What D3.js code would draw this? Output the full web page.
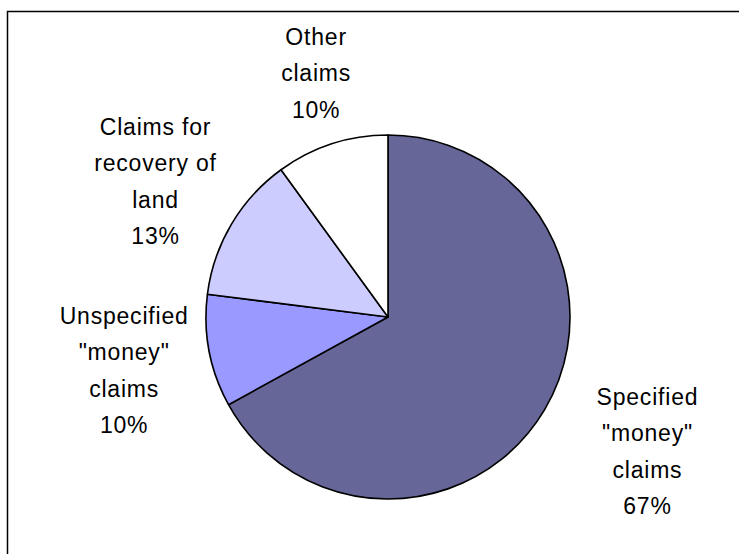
<!DOCTYPE html>
<html>
<head>
	<script src="https://cdn.jsdelivr.net/npm/d3@7/dist/d3.min.js"></script>
	<style>
		html, body {
			padding: 0;
			margin: 0;
			background: #ffffff;
		}
	</style>
</head>
<body>
	<script>
		// chart data
		var categories = ['Specified "money" claims', 'Unspecified "money" claims', 'Claims for recovery of land', 'Other claims'];
		var values = [67, 10, 13, 10];
		var colors = ['#666699', '#9999FF', '#CCCCFF', '#FFFFFF'];
		var labelLines = [
			['Specified', '"money"', 'claims', '67%'],
			['Unspecified', '"money"', 'claims', '10%'],
			['Claims for', 'recovery of', 'land', '13%'],
			['Other', 'claims', '10%']
		];

		var width = 739, height = 554;
		var cx = 388, cy = 317, radius = 182;

		var svg = d3.select('body').append('svg')
			.attr('width', width)
			.attr('height', height);

		// frame (runs off the right and bottom edges)
		svg.append('rect')
			.attr('x', 7.5)
			.attr('y', 11.5)
			.attr('width', 800)
			.attr('height', 800)
			.attr('fill', 'none')
			.attr('stroke', '#000')
			.attr('stroke-width', 1.5);

		var data = values.map(function (v, i) {
			return { name: categories[i], value: v, color: colors[i], lines: labelLines[i] };
		});

		var pie = d3.pie().sort(null).value(function (d) { return d.value; });
		var arc = d3.arc().innerRadius(0).outerRadius(radius);
		var arcs = pie(data);

		var g = svg.append('g').attr('transform', 'translate(' + cx + ',' + cy + ')');

		g.selectAll('path')
			.data(arcs)
			.enter().append('path')
			.attr('d', arc)
			.attr('fill', function (d) { return d.data.color; })
			.attr('stroke', '#000')
			.attr('stroke-width', 1.6)
			.attr('stroke-linejoin', 'round');

		// labels placed outside on the slice mid angle
		var lineH = 36.3;
		var labelArc = d3.arc().innerRadius(radius * 1.42).outerRadius(radius * 1.42);
		var offsets = [[37, 3], [-10, 5], [-10, -4], [8, 2]];

		var labels = svg.append('g')
			.attr('font-family', 'Liberation Sans, Arial, sans-serif')
			.attr('font-size', 23)
			.attr('letter-spacing', 0.8)
			.attr('fill', '#000')
			.attr('text-anchor', 'middle');

		arcs.forEach(function (d, i) {
			var c = labelArc.centroid(d);
			var n = d.data.lines.length;
			var x = cx + c[0] + offsets[i][0];
			var y = cy + c[1] + offsets[i][1] - (n - 1) * lineH / 2 + 8;
			var t = labels.append('text').attr('x', x).attr('y', y);
			d.data.lines.forEach(function (ln, j) {
				t.append('tspan').attr('x', x).attr('y', y + j * lineH).text(ln);
			});
		});
	</script>
</body>
</html>
